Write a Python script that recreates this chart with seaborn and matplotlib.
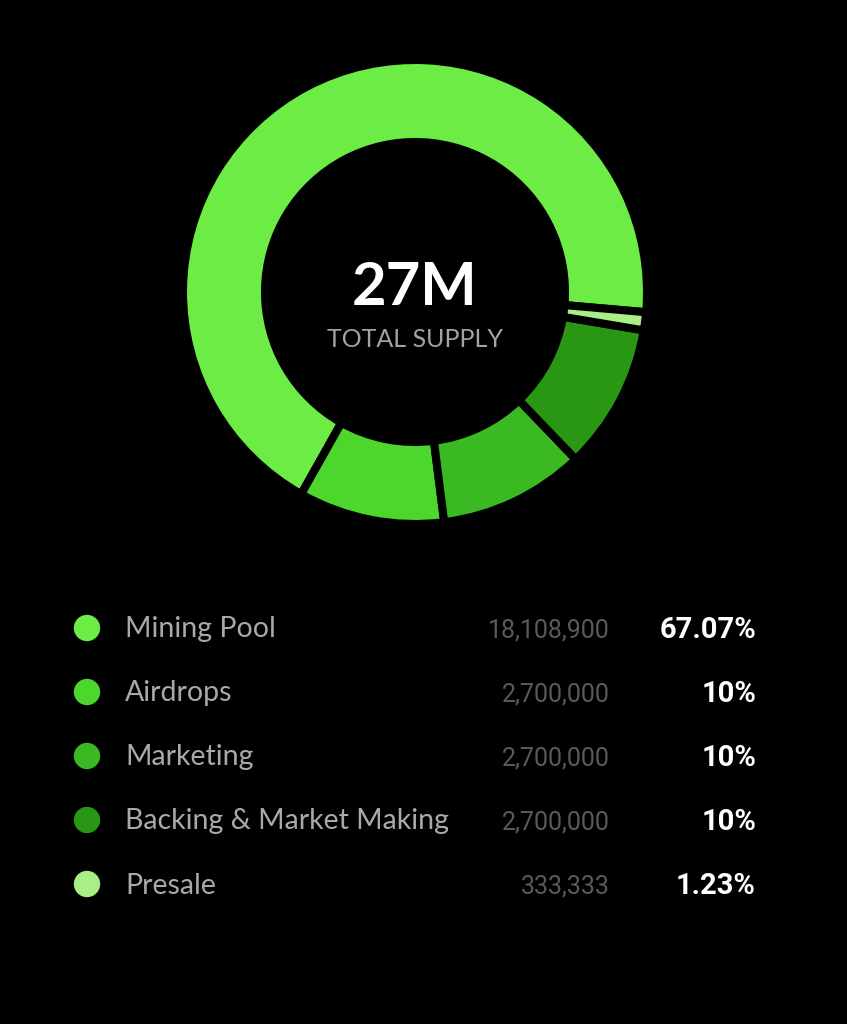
import numpy as np
import pandas as pd
import seaborn as sns
import matplotlib.pyplot as plt

# token allocation
labels = ["Mining Pool", "Airdrops", "Marketing", "Backing & Market Making", "Presale"]
amounts = [18108900, 2700000, 2700000, 2700000, 333333]
amount_labels = ["18,108,900", "2,700,000", "2,700,000", "2,700,000", "333,333"]
pct_labels = ["67.07%", "10%", "10%", "10%", "1.23%"]
colors = ["#6cec45", "#4dd62c", "#3bb923", "#2a9714", "#a9ef88"]
total_label = "27M"
total_caption = "TOTAL SUPPLY"

sns.set_theme(style="dark", rc={"figure.facecolor": "black", "axes.facecolor": "black"})
plt.rcParams["font.family"] = ["Lato", "DejaVu Sans"]

W, H = 847, 1024
fig = plt.figure(figsize=(W / 100, H / 100), dpi=100)
fig.patch.set_facecolor("black")

# donut (pixel units: visible outer 228, inner 154, gaps ~8px)
cx, cy, R = 415, 292, 228
box = 245
ax = fig.add_axes([(cx - box) / W, (H - cy - box) / H, 2 * box / W, 2 * box / H])
ax.pie(amounts, colors=colors, startangle=-5, counterclock=True, radius=232 / R,
       wedgeprops=dict(width=82 / R, edgecolor="black", linewidth=5.8))
ax.set_xlim(-box / R, box / R)
ax.set_ylim(-box / R, box / R)
ax.set_aspect("equal")
ax.axis("off")
ax.text(0, -13 / R, total_label, ha="center", va="baseline", color="white",
        fontsize=43, fontweight="bold")
ax.text(0, -55 / R, total_caption, ha="center", va="baseline", color="#a3a3a3", fontsize=18)

# legend table
lg = fig.add_axes([0, 0, 1, 1])
lg.set_xlim(0, W)
lg.set_ylim(H, 0)
lg.axis("off")
df = pd.DataFrame({"label": labels, "row": np.arange(len(labels))})
df["y"] = 628 + 64 * df["row"]
df["x"] = 87
sns.scatterplot(data=df, x="x", y="y", hue="label", palette=colors, s=360,
                edgecolor="none", legend=False, ax=lg)
for i, row in df.iterrows():
    base = row["y"] + 9.5
    lg.text(125, base, labels[i], ha="left", va="baseline", color="#a9a9a9", fontsize=20.5)
    lg.text(610, base, amount_labels[i], ha="right", va="baseline", color="#5a5a5a",
            fontsize=18, family=["Roboto", "DejaVu Sans"])
    lg.text(756, base, pct_labels[i], ha="right", va="baseline", color="white",
            fontsize=21, fontweight="bold", family=["Roboto", "DejaVu Sans"])

fig.savefig("out.png", dpi=100, facecolor="black")
